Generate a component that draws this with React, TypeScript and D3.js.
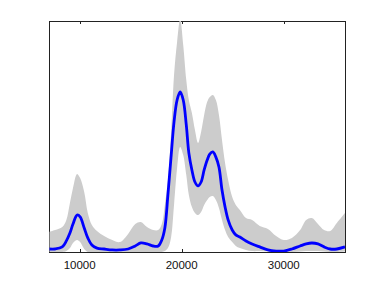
import React, { FC } from "react";
import * as d3 from "d3";

// wavenumber grid shared by all series
const wavenumber = [
    7000, 7600, 8300, 8700, 9050, 9350, 9750, 10050, 10450, 10800, 11200, 11700, 12400, 13200, 13950, 14750,
    15450, 16000, 16600, 17200, 17700, 18050, 18350, 18650, 18950, 19250, 19550, 19850, 20150, 20450, 20700,
    21000, 21300, 21600, 21900, 22200, 22500, 22750, 23050, 23350, 23650, 23950, 24250, 24550, 24950, 25300,
    25700, 26300, 26900, 27650, 28450, 29250, 30000, 30800, 31600, 32200, 32750, 33350, 33950, 34550, 35200, 36000,
];

const meanValues = [
    1.3, 1.3, 2.2, 4.8, 8.2, 12.1, 16.0, 15.2, 10.4, 6.1, 3.0, 1.7, 1.3, 0.9, 0.9, 1.3,
    2.6, 3.9, 3.5, 2.6, 2.6, 5.2, 10.4, 24.7, 40.7, 56.3, 65.8, 69.3, 65.8, 55.0, 42.9,
    35.5, 30.3, 28.6, 30.3, 35.5, 39.8, 42.4, 43.3, 41.1, 36.8, 26.8, 19.5, 13.9, 9.5, 7.4,
    6.5, 4.8, 3.5, 2.2, 0.9, 0.4, 0.4, 1.3, 2.6, 3.5, 3.9, 3.5, 2.2, 1.3, 1.3, 2.2,
];

const lowerValues = [
    0, 0, 0, 0.4, 1.7, 3.9, 5.2, 4.3, 1.3, 0, 0, 0, 0, 0, 0, 0,
    0, 0, 0, 0, 0, 0, 0.4, 1.7, 6.1, 20.4, 36.4, 45.5, 42.0, 33.3, 24.7,
    19.5, 16.9, 16.0, 17.3, 20.4, 22.5, 23.8, 24.2, 22.5, 19.1, 13.9, 9.5, 6.5, 4.3, 2.6,
    1.7, 0.9, 0.4, 0.4, 0.2, 0, 0, 0, 0.2, 0.4, 0.4, 0.4, 0.2, 0, 0, 0.2,
];

const upperValues = [
    8.7, 9.5, 10.8, 13.9, 21.2, 27.7, 33.8, 32.0, 26.0, 16.9, 11.7, 9.1, 6.9, 5.2, 4.3, 7.8,
    12.1, 13.0, 10.8, 9.5, 9.5, 12.1, 20.4, 31.2, 50.7, 76.6, 90.9, 100.9, 89.6, 74.5, 65.8,
    60.2, 52.8, 47.2, 52.0, 59.3, 65.0, 67.1, 68.0, 65.8, 59.3, 48.5, 38.5, 31.2, 23.8, 20.4,
    18.2, 14.7, 13.9, 11.3, 10.0, 6.9, 5.2, 6.1, 9.5, 13.9, 14.7, 12.1, 9.5, 9.1, 12.6, 16.9,
];

const xTicks = [10000, 20000, 30000];

const W = 382;
const H = 286;
const margin = { top: 21, right: 37, bottom: 34, left: 49 };

const App: FC = () => {
    const x = d3.scaleLinear()
        .domain([7000, 36000])
        .range([margin.left, W - margin.right]);
    const y = d3.scaleLinear()
        .domain([0, 100])
        .range([H - margin.bottom, margin.top]);

    const idx = d3.range(wavenumber.length);

    const band = d3.area<number>()
        .x(i => x(wavenumber[i]))
        .y0(i => y(lowerValues[i]))
        .y1(i => y(upperValues[i]))
        .curve(d3.curveCatmullRom.alpha(0.5));

    const meanLine = d3.line<number>()
        .x(i => x(wavenumber[i]))
        .y(i => y(meanValues[i]))
        .curve(d3.curveCatmullRom.alpha(0.5));

    const x0 = margin.left, x1 = W - margin.right;
    const y0 = margin.top, y1 = H - margin.bottom;

    return (
        <svg width={W} height={H} style={{ position: "absolute", left: 0, top: 0, background: "#fff" }}>
            <defs>
                <clipPath id="plot-clip">
                    <rect x={x0 + 0.5} y={y0} width={x1 - x0 + 0.5} height={y1 - y0} />
                </clipPath>
            </defs>
            {/* frame */}
            <rect x={x0 + 0.5} y={y0 + 0.5} width={x1 - x0} height={y1 - y0} fill="none" stroke="#222" strokeWidth={1} />
            {xTicks.map(t => (
                <g key={t}>
                    <line x1={Math.round(x(t)) + 0.5} x2={Math.round(x(t)) + 0.5} y1={y1} y2={y1 - 3} stroke="#222" />
                    <line x1={Math.round(x(t)) + 0.5} x2={Math.round(x(t)) + 0.5} y1={y0} y2={y0 + 3} stroke="#222" />
                    <text x={x(t)} y={y1 + 17} textAnchor="middle"
                        style={{ fontFamily: "'Liberation Sans', Arial, sans-serif", fontSize: "11.5px", fill: "#111" }}>
                        {t}
                    </text>
                </g>
            ))}
            <g clipPath="url(#plot-clip)">
                <path d={band(idx) || ""} fill="#cccccc" stroke="none" />
                <path d={meanLine(idx) || ""} fill="none" stroke="#0000ff" strokeWidth={2.8} strokeLinejoin="round" />
            </g>
        </svg>
    );
};

export default App;
